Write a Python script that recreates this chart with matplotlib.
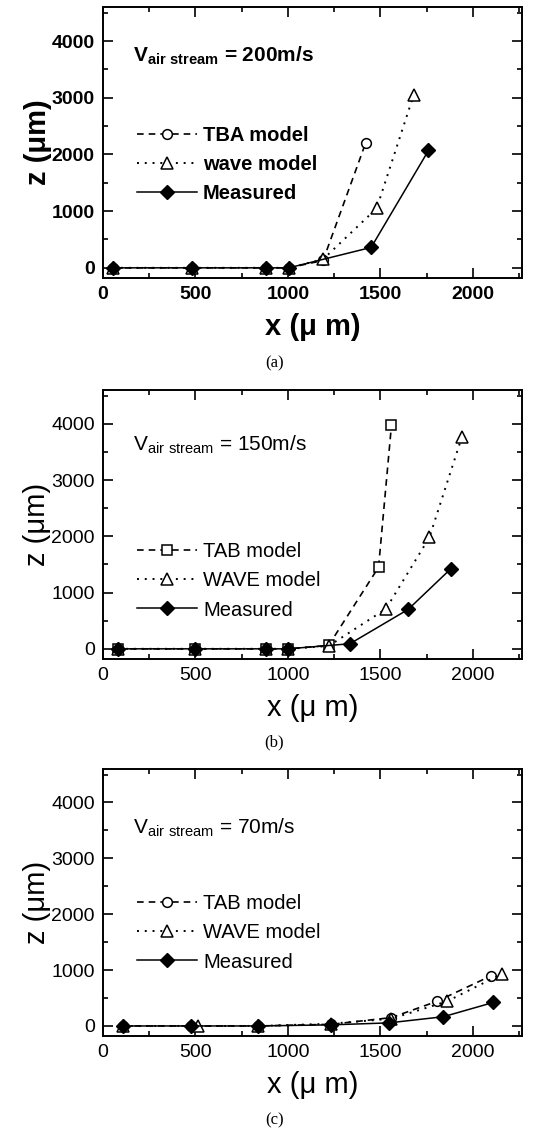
import numpy as np
import matplotlib
matplotlib.use("Agg")
import matplotlib.pyplot as plt
from matplotlib.ticker import MultipleLocator

plt.rcParams['font.family'] = ['Liberation Sans', 'DejaVu Sans']
plt.rcParams['mathtext.default'] = 'regular'

# panel (a) V = 200 m/s
a_tba_x = [55, 483, 880, 1005, 1190, 1420]
a_tba_z = [0, 0, 0, 0, 130, 2200]
a_wave_x = [55, 483, 880, 1005, 1190, 1480, 1680]
a_wave_z = [0, 0, 0, 0, 150, 1050, 3050]
a_meas_x = [55, 483, 880, 1005, 1450, 1760]
a_meas_z = [0, 0, 0, 0, 360, 2070]

# panel (b) V = 150 m/s
b_tab_x = [83, 497, 880, 1000, 1220, 1490, 1560]
b_tab_z = [0, 0, 0, 0, 60, 1450, 3980]
b_wave_x = [83, 497, 880, 1000, 1220, 1530, 1765, 1940]
b_wave_z = [0, 0, 0, 0, 50, 710, 1980, 3760]
b_meas_x = [83, 497, 880, 1000, 1335, 1650, 1880]
b_meas_z = [0, 0, 0, 0, 90, 700, 1420]

# panel (c) V = 70 m/s
c_tab_x = [108, 477, 840, 1235, 1560, 1805, 2100]
c_tab_z = [0, 0, 0, 30, 150, 440, 900]
c_wave_x = [108, 515, 840, 1235, 1560, 1860, 2155]
c_wave_z = [0, 0, 0, 40, 130, 440, 930]
c_meas_x = [108, 477, 840, 1235, 1545, 1840, 2110]
c_meas_z = [0, 0, 0, 20, 55, 165, 420]

panels = [
    dict(rect=[0.1915, 0.7546, 0.7785, 0.2392], speed='200m/s', bold=True,
         m1=('TBA model', 'o', a_tba_x, a_tba_z), m2=('wave model', a_wave_x, a_wave_z),
         meas=(a_meas_x, a_meas_z), cap='(a)', capy=0.676, legy=0.42, vy=0.82),
    dict(rect=[0.1915, 0.4184, 0.7785, 0.2374], speed='150m/s', bold=False,
         m1=('TAB model', 's', b_tab_x, b_tab_z), m2=('WAVE model', b_wave_x, b_wave_z),
         meas=(b_meas_x, b_meas_z), cap='(b)', capy=0.341, legy=0.29, vy=0.795),
    dict(rect=[0.1915, 0.0856, 0.7785, 0.2357], speed='70m/s', bold=False,
         m1=('TAB model', 'o', c_tab_x, c_tab_z), m2=('WAVE model', c_wave_x, c_wave_z),
         meas=(c_meas_x, c_meas_z), cap='(c)', capy=0.008, legy=0.386, vy=0.78),
]

fig = plt.figure(figsize=(5.38, 11.33), dpi=100)

for p in panels:
    ax = fig.add_axes(p['rect'])
    wt = 'bold' if p['bold'] else 'normal'
    name1, mk1, x1, z1 = p['m1']
    name2, x2, z2 = p['m2']
    ax.plot(x1, z1, color='black', ls=(0, (4, 3)), lw=1.2, marker=mk1, ms=7,
            mfc='white', mec='black', mew=1.1, label=name1)
    ax.plot(x2, z2, color='black', ls=(0, (1, 3)), lw=1.4, marker='^', ms=8,
            mfc='white', mec='black', mew=1.1, label=name2)
    ax.plot(p['meas'][0], p['meas'][1], color='black', ls='-', lw=1.1, marker='D',
            ms=7, mfc='black', mec='black', label='Measured')
    ax.set_xlim(0, 2265)
    ax.set_ylim(-180, 4600)
    ax.set_xticks([0, 500, 1000, 1500, 2000])
    ax.set_yticks([0, 1000, 2000, 3000, 4000])
    ax.xaxis.set_minor_locator(MultipleLocator(250))
    ax.yaxis.set_minor_locator(MultipleLocator(500))
    ax.tick_params(which='both', direction='in', top=True, right=True, width=1.2)
    ax.tick_params(which='major', length=7, labelsize=14, pad=6)
    ax.tick_params(which='minor', length=3.5)
    for lab in ax.get_xticklabels() + ax.get_yticklabels():
        lab.set_fontweight(wt)
    for s in ax.spines.values():
        s.set_linewidth(1.4)
    ax.set_xlabel('x (\u03bc m)', fontsize=21, labelpad=7, fontweight=wt)
    ax.set_ylabel('z (\u03bcm)', fontsize=21, labelpad=0, fontweight=wt)
    ax.text(0.072, p['vy'], 'V$_{air\\ stream}$ = ' + p['speed'], transform=ax.transAxes,
            fontsize=15, fontweight=wt, va='center')
    leg = ax.legend(loc='center left', bbox_to_anchor=(0.08, p['legy']), frameon=False,
                    fontsize=14.5, handlelength=3.0, handletextpad=0.3,
                    labelspacing=0.5, borderpad=0.0, borderaxespad=0.0)
    for t in leg.get_texts():
        t.set_fontweight(wt)
    fig.text(0.51, p['capy'], p['cap'], ha='center', fontsize=12,
             family='Liberation Serif')

fig.savefig('out.png', dpi=100)
